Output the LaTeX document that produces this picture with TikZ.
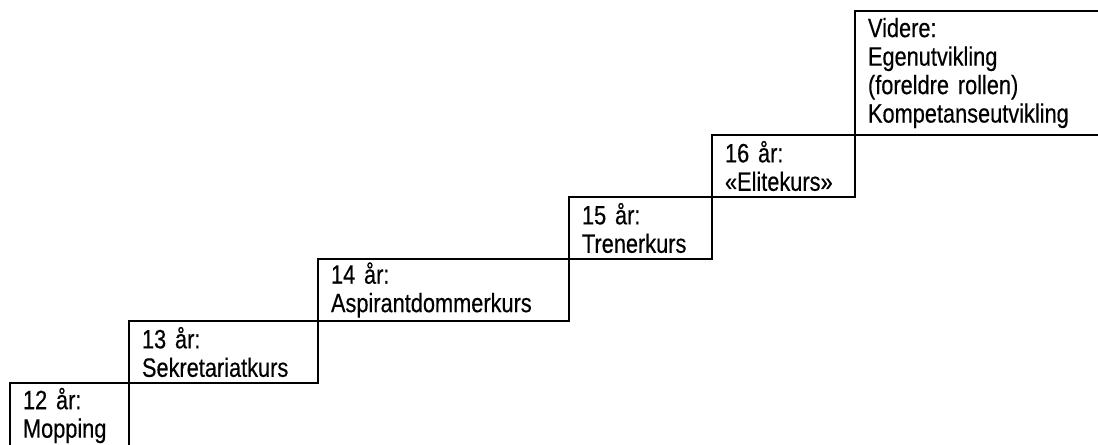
\documentclass[tikz,border=0pt]{standalone}
\usepackage{fontspec}
\setmainfont{Liberation Sans}[FakeStretch=0.82,FakeBold=0.4]
\usetikzlibrary{positioning}
\newcommand\trinnfont{\fontsize{15.1}{16.2}\selectfont\spaceskip=0.16em\relax}
\begin{document}
\begin{tikzpicture}[trinn/.style={shape=rectangle,draw,line width=1.1pt,outer sep=0pt,inner xsep=0.26cm,inner ysep=0pt,align=left,font=\trinnfont,minimum height=1.24cm}
                        ]
                        \useasboundingbox (0,0) rectangle (21.96,8.9);
                        \clip (0,0) rectangle (21.96,8.9);
                        %Trinn 1: 12 år
                        \node [trinn,text width=1.86cm,minimum height=1.3cm,anchor=north west] (mopping) at (0.2,1.24) {12 år:\\Mopping};
                        %Trinn 2: 13 år
                        \node [trinn,text width=3.26cm,above right=0pt and 0pt of mopping.north east] (sekretariat) {13 år:\\Sekretariatkurs};
                        %Trinn 3: 14 år
                        \node [trinn,text width=4.5cm,above right=0pt and 0pt of sekretariat.north east] (aspirant) {14 år:\\Aspirantdommerkurs};
                        %Trinn 4: 15 år
                        \node [trinn,text width=2.34cm,above right=0pt and 0pt of aspirant.north east] (trener) {15 år:\\Trenerkurs};
                        %Trinn 5: 16 år
                        \node [trinn,text width=2.34cm,above right=0pt and 0pt of trener.north east] (elite) {16 år:\\«Elitekurs»};
                        %Trinn 6: Videre
                        \node [trinn,text width=4.58cm,minimum height=2.48cm,above right=0pt and 0pt of elite.north east] (videre) {Videre:\\Egenutvikling\\(foreldre rollen)\\Kompetanseutvikling};
                \end{tikzpicture}
\end{document}
